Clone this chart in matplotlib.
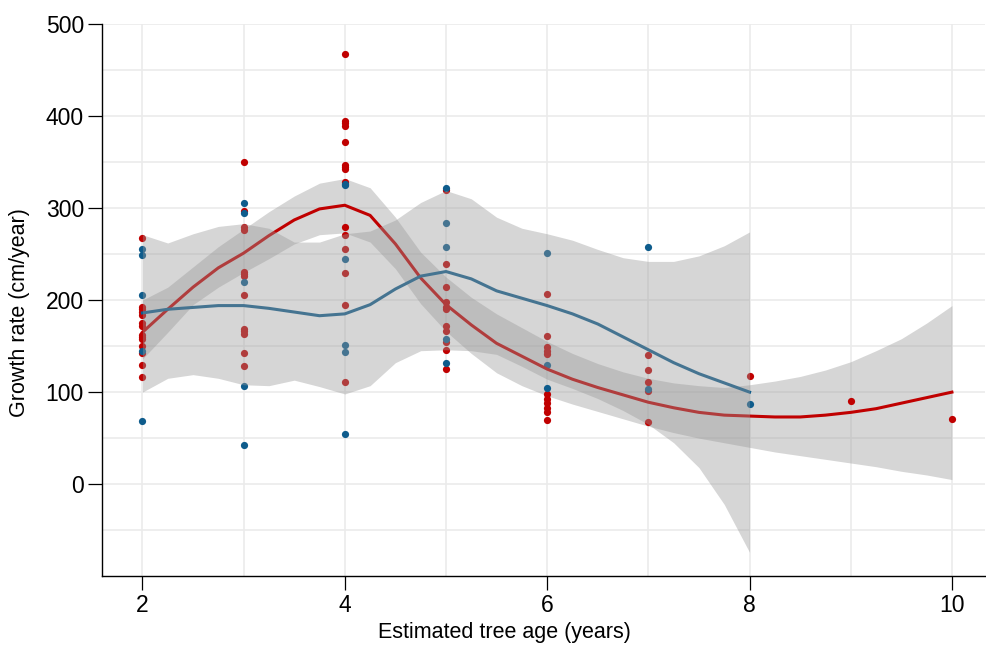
import numpy as np
import matplotlib.pyplot as plt

# scatter data (age, growth rate)
red_age = [2] * 14 + [3] * 13 + [4] * 15 + [5] * 11 + [6] * 11 + [7] * 5 + [8, 9, 10]
red_rate = [267, 193, 190, 187, 184, 175, 172, 162, 160, 158, 150, 142, 129, 116,
            350, 297, 279, 276, 230, 228, 226, 206, 169, 166, 163, 143, 128,
            467, 394, 392, 389, 372, 347, 345, 342, 328, 279, 271, 255, 229, 195, 111,
            320, 239, 214, 198, 193, 190, 172, 166, 154, 146, 125,
            207, 161, 149, 145, 141, 98, 93, 88, 83, 78, 70,
            140, 124, 111, 101, 68,
            117, 90, 71]

blue_age = [2] * 5 + [3] * 5 + [4] * 6 + [5] * 5 + [6] * 3 + [7] * 2 + [8]
blue_rate = [256, 249, 206, 145, 69,
             305, 295, 220, 107, 43,
             326, 325, 245, 151, 144, 54,
             322, 284, 258, 158, 132,
             251, 130, 104,
             258, 103,
             87]

# smoothed fits and confidence bands
red_fit_x = [2.0, 2.25, 2.5, 2.75, 3.0, 3.25, 3.5, 3.75, 4.0, 4.25, 4.5, 4.75, 5.0,
             5.25, 5.5, 5.75, 6.0, 6.25, 6.5, 6.75, 7.0, 7.25, 7.5, 7.75, 8.0,
             8.25, 8.5, 8.75, 9.0, 9.25, 9.5, 9.75, 10.0]
red_fit = [165, 190, 214, 235, 251, 270, 287, 299, 303, 292, 261, 224, 195,
           173, 153, 139, 125, 114, 105, 97, 89, 83, 78, 75, 74,
           73, 73, 75, 78, 82, 88, 94, 100]
red_lo = [136, 165, 195, 214, 230, 245, 261, 271, 273, 263, 234, 196, 166,
          142, 121, 107, 96, 87, 79, 71, 63, 56, 50, 45, 40,
          35, 31, 27, 23, 19, 14, 10, 5]
red_hi = [200, 214, 236, 258, 277, 296, 313, 327, 332, 322, 290, 252, 225,
          203, 185, 170, 155, 142, 131, 122, 115, 110, 107, 105, 108,
          112, 117, 124, 133, 145, 158, 175, 194]

blue_fit_x = [2.0, 2.25, 2.5, 2.75, 3.0, 3.25, 3.5, 3.75, 4.0, 4.25, 4.5, 4.75, 5.0,
              5.25, 5.5, 5.75, 6.0, 6.25, 6.5, 6.75, 7.0, 7.25, 7.5, 7.75, 8.0]
blue_fit = [186, 190, 192, 194, 194, 191, 187, 183, 185, 195, 212, 226, 231,
            223, 210, 202, 194, 185, 174, 160, 146, 132, 120, 110, 100]
blue_lo = [100, 115, 119, 115, 108, 107, 113, 106, 98, 107, 132, 145, 146,
           145, 141, 128, 114, 104, 93, 80, 65, 45, 18, -22, -74]
blue_hi = [271, 262, 272, 280, 283, 278, 263, 263, 272, 275, 287, 306, 319,
           310, 290, 278, 272, 265, 255, 246, 242, 242, 248, 259, 274]

RED = "#c00000"
BLUE = "#0e5c8c"

plt.rcParams['font.family'] = ['Liberation Sans', 'DejaVu Sans']

fig = plt.figure(figsize=(9.87, 6.46), dpi=100)
ax = fig.add_axes([0.1033, 0.108, 0.895, 0.855])

ax.fill_between(red_fit_x, red_lo, red_hi, color="#999999", alpha=0.4, lw=0, zorder=2)
ax.scatter(red_age, red_rate, s=27, color=RED, lw=0, zorder=3)
ax.scatter(blue_age, blue_rate, s=27, color=BLUE, lw=0, zorder=3)
ax.plot(red_fit_x, red_fit, color=RED, lw=2.2, zorder=4, solid_joinstyle="round")
ax.plot(blue_fit_x, blue_fit, color=BLUE, lw=2.2, zorder=4, solid_joinstyle="round")
ax.fill_between(blue_fit_x, blue_lo, blue_hi, color="#999999", alpha=0.4, lw=0, zorder=5)

ax.set_xlim(1.6, 10.33)
ax.set_ylim(-100, 500)
ax.set_xticks([2, 4, 6, 8, 10])
ax.set_xticks([3, 5, 7, 9], minor=True)
ax.set_yticks([0, 100, 200, 300, 400, 500])
ax.set_yticks([-50, 50, 150, 250, 350, 450], minor=True)
ax.grid(True, which="both", color="#ebebeb", lw=1.2, zorder=0)
ax.set_axisbelow(True)

for side in ["top", "right"]:
    ax.spines[side].set_visible(False)
for side in ["left", "bottom"]:
    ax.spines[side].set_color("black")
    ax.spines[side].set_linewidth(1.0)

ax.tick_params(which="major", direction="out", length=10, width=0.9, labelsize=16.5, pad=3)
ax.tick_params(which="minor", length=0)

ax.set_xlabel("Estimated tree age (years)", fontsize=15.5)
ax.set_ylabel("Growth rate (cm/year)", fontsize=15.5)
ax.xaxis.set_label_coords(0.456, -0.083)
ax.yaxis.set_label_coords(-0.081, 0.478)

fig.savefig("out.png", dpi=100)
